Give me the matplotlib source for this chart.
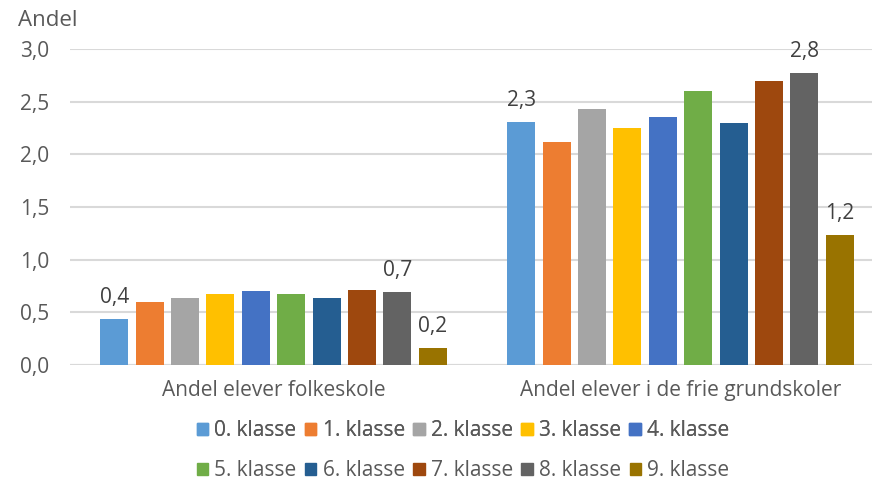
import matplotlib.pyplot as plt
import numpy as np
from matplotlib.patches import Patch

plt.rcParams['font.family'] = ['Open Sans', 'DejaVu Sans']

kategorier = ["Andel elever folkeskole", "Andel elever i de frie grundskoler"]
klasser = ["0. klasse", "1. klasse", "2. klasse", "3. klasse", "4. klasse",
           "5. klasse", "6. klasse", "7. klasse", "8. klasse", "9. klasse"]
folkeskole = [0.44, 0.60, 0.64, 0.67, 0.70, 0.67, 0.64, 0.71, 0.69, 0.16]
frie = [2.31, 2.12, 2.43, 2.25, 2.35, 2.60, 2.30, 2.70, 2.77, 1.23]
farver = ["#5B9BD5", "#ED7D31", "#A5A5A5", "#FFC000", "#4472C4",
          "#70AD47", "#255E91", "#9E480E", "#636363", "#997300"]
vis_label = [0, 8, 9]  # bars der har datalabels

grå = "#595959"
fs = 15

fig = plt.figure(figsize=(8.72, 4.84), dpi=100)
# plotområdet går lidt ud over billedets højre kant
ax = fig.add_axes([70/872, 1-365/484, 814/872, 316/484])

x = np.arange(len(kategorier))
step = 35.4/407
bredde = 28/407
for i, k in enumerate(klasser):
    vals = [folkeskole[i], frie[i]]
    pos = x + (i - 4.5)*step
    ax.bar(pos, vals, bredde, color=farver[i], label=k, zorder=3)
    if i in vis_label:
        for p, v in zip(pos, vals):
            ax.annotate(f"{v:.1f}".replace(".", ","), (p, v), xytext=(0, 8),
                        textcoords="offset points", ha="center", va="bottom",
                        fontsize=fs, color="#404040")

ax.set_xlim(-0.5, 1.5)
ax.set_ylim(0, 3.0)
yt = np.arange(0, 3.01, 0.5)
ax.set_yticks(yt)
ax.set_yticklabels([f"{t:.1f}".replace(".", ",") for t in yt])
ax.set_xticks(x)
ax.set_xticklabels(kategorier)
ax.tick_params(axis="both", length=0, colors=grå, labelsize=fs)
ax.tick_params(axis="x", pad=11)
ax.tick_params(axis="y", pad=15)
ax.grid(axis="y", color="#D9D9D9", linewidth=1.5, zorder=0)
for s in ax.spines.values():
    s.set_visible(False)
ax.axhline(0, color="#D9D9D9", linewidth=1.5, zorder=2)

fig.text(18/872, 1-20/484, "Andel", fontsize=16, color=grå, va="center", ha="left")

handles = [Patch(color=c) for c in farver]
kw = dict(loc="center", ncol=5, frameon=False, fontsize=fs, handlelength=0.55,
          handleheight=0.55, handletextpad=0.3, columnspacing=0.4, labelcolor=grå,
          borderpad=0, borderaxespad=0)
leg1 = fig.legend(handles[:5], klasser[:5], bbox_to_anchor=(463/872, 1-431/484), **kw)
leg2 = fig.legend(handles[5:], klasser[5:], bbox_to_anchor=(463/872, 1-471/484), **kw)
fig.add_artist(leg1)

fig.savefig("out.png", dpi=100)
